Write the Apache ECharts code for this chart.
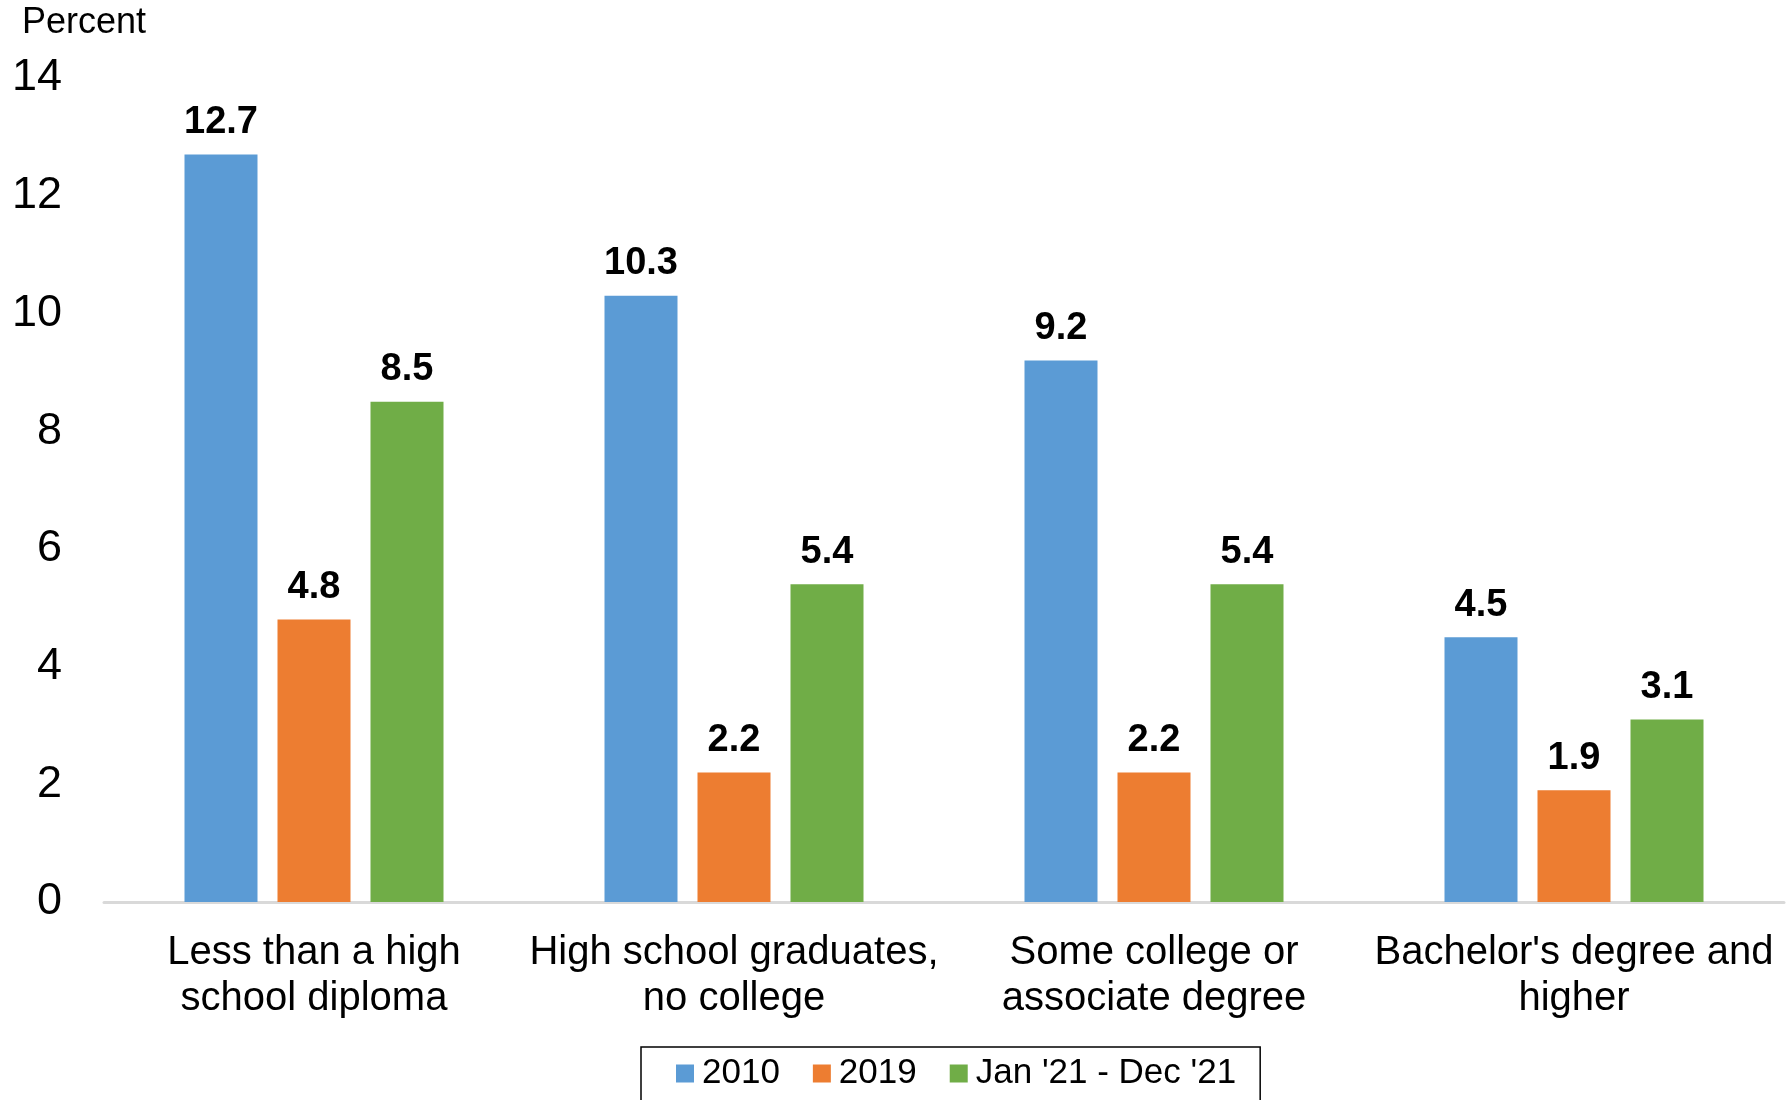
<!DOCTYPE html>
<html>
<head>
<meta charset="utf-8">
<script src="https://cdn.jsdelivr.net/npm/echarts@6/dist/echarts.min.js"></script>
<style>
html,body{margin:0;padding:0;background:#fff;}
#chart{width:1791px;height:1100px;}
</style>
</head>
<body>
<div id="chart"></div>
<script>
const categories = [
  "Less than a high\nschool diploma",
  "High school graduates,\nno college",
  "Some college or\nassociate degree",
  "Bachelor's degree and\nhigher"
];
const seriesNames = ["2010", "2019", "Jan '21 - Dec '21"];
const values2010 = [12.7, 10.3, 9.2, 4.5];
const values2019 = [4.8, 2.2, 2.2, 1.9];
const values2021 = [8.5, 5.4, 5.4, 3.1];
const yTicks = { min: 0, max: 14, interval: 2 };
const colors = ["#5B9BD5", "#ED7D31", "#70AD47"];
const FONT = "'Liberation Sans', Arial, sans-serif";

const chart = echarts.init(document.getElementById('chart'));

function makeSeries(name, data, color) {
  return {
    name: name,
    type: 'bar',
    data: data,
    barWidth: 73,
    barGap: '27.4%',
    itemStyle: { color: color },
    label: {
      show: true,
      position: 'top',
      distance: 13,
      color: '#000',
      fontFamily: FONT,
      fontWeight: 'bold',
      fontSize: 38,
      formatter: p => p.value.toFixed(1)
    }
  };
}

chart.setOption({
  animation: false,
  backgroundColor: '#fff',
  textStyle: { fontFamily: FONT },
  grid: { left: 104, right: 7, top: 78, bottom: 198, containLabel: false },
  graphic: [{
    type: 'text',
    left: 22,
    top: 5,
    style: { text: 'Percent', fontFamily: FONT, fontSize: 36, fill: '#000' }
  }],
  legend: {
    data: seriesNames,
    left: 641,
    top: 1047,
    orient: 'horizontal',
    itemWidth: 18,
    itemHeight: 18,
    itemGap: 33,
    icon: 'rect',
    borderColor: '#000',
    borderWidth: 1.5,
    padding: [9, 24, 40, 35],
    textStyle: { fontFamily: FONT, fontSize: 35, color: '#000', padding: [0, 0, 0, 3] }
  },
  xAxis: {
    type: 'category',
    data: categories,
    axisLine: { show: true, lineStyle: { color: '#d9d9d9', width: 3 } },
    axisTick: { show: false },
    axisLabel: {
      interval: 0,
      margin: 28,
      color: '#000',
      fontFamily: FONT,
      fontSize: 40,
      lineHeight: 46
    }
  },
  yAxis: {
    type: 'value',
    min: yTicks.min,
    max: yTicks.max,
    interval: yTicks.interval,
    axisLine: { show: false },
    axisTick: { show: false },
    splitLine: { show: false },
    axisLabel: {
      margin: 42,
      color: '#000',
      fontFamily: FONT,
      fontSize: 45
    }
  },
  series: [
    makeSeries(seriesNames[0], values2010, colors[0]),
    makeSeries(seriesNames[1], values2019, colors[1]),
    makeSeries(seriesNames[2], values2021, colors[2])
  ]
});
</script>
</body>
</html>
